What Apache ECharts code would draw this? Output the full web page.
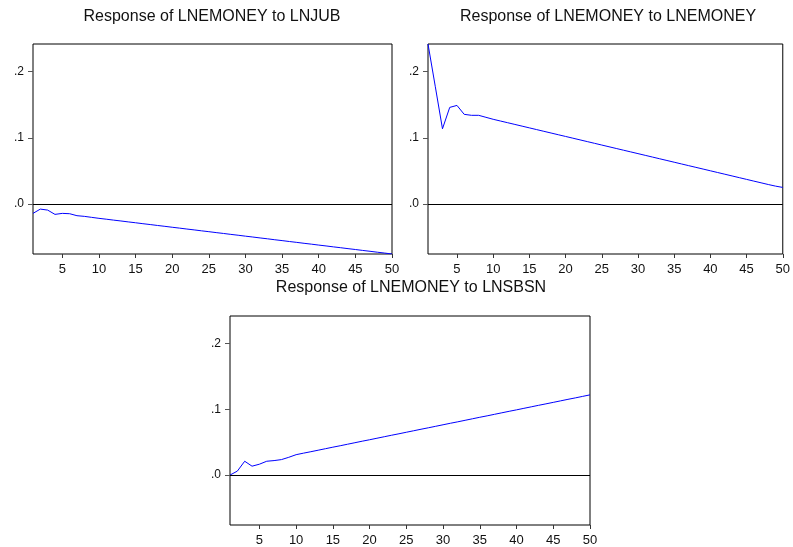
<!DOCTYPE html>
<html>
<head>
<meta charset="utf-8">
<script src="https://cdn.jsdelivr.net/npm/echarts@6/dist/echarts.min.js"></script>
<style>
  html, body { margin: 0; padding: 0; background: #fff; }
  #chart { width: 793px; height: 547px; }
</style>
</head>
<body>
<div id="chart"></div>
<script>
// periods 1..50
const periods = [];
for (let i = 1; i <= 50; i++) periods.push(i);

const xTicks = [5, 10, 15, 20, 25, 30, 35, 40, 45, 50];
const yTicks = [0, 0.1, 0.2];

const titles = [
  'Response of LNEMONEY to LNJUB',
  'Response of LNEMONEY to LNEMONEY',
  'Response of LNEMONEY to LNSBSN'
];

// response of LNEMONEY to LNJUB
const toJub = [
  -0.0145, -0.0080, -0.0095, -0.0160, -0.0145, -0.0150, -0.0180, -0.0190, -0.0205, -0.0220,
  -0.0233, -0.0247, -0.0260, -0.0274, -0.0287, -0.0301, -0.0314, -0.0328, -0.0341, -0.0355,
  -0.0368, -0.0382, -0.0395, -0.0409, -0.0422, -0.0436, -0.0449, -0.0463, -0.0476, -0.0490,
  -0.0503, -0.0517, -0.0530, -0.0544, -0.0557, -0.0571, -0.0584, -0.0598, -0.0611, -0.0625,
  -0.0638, -0.0652, -0.0665, -0.0679, -0.0692, -0.0706, -0.0719, -0.0733, -0.0746, -0.0760
];

// response of LNEMONEY to LNEMONEY
const toEmoney = [
  0.2420, 0.1780, 0.1136, 0.1460, 0.1490, 0.1355, 0.1340, 0.1340, 0.1310, 0.1280,
  0.1254, 0.1228, 0.1202, 0.1176, 0.1150, 0.1124, 0.1098, 0.1072, 0.1046, 0.1020,
  0.0994, 0.0968, 0.0942, 0.0916, 0.0890, 0.0864, 0.0838, 0.0812, 0.0786, 0.0760,
  0.0734, 0.0708, 0.0682, 0.0656, 0.0630, 0.0604, 0.0578, 0.0552, 0.0526, 0.0500,
  0.0474, 0.0448, 0.0422, 0.0396, 0.0370, 0.0344, 0.0318, 0.0292, 0.0268, 0.0248
];

// response of LNEMONEY to LNSBSN
const toSbsn = [
  0.0000, 0.0060, 0.0210, 0.0135, 0.0165, 0.0210, 0.0220, 0.0235, 0.0270, 0.0310,
  0.0333, 0.0355, 0.0378, 0.0401, 0.0424, 0.0446, 0.0469, 0.0492, 0.0515, 0.0537,
  0.0560, 0.0583, 0.0606, 0.0628, 0.0651, 0.0674, 0.0697, 0.0719, 0.0742, 0.0765,
  0.0788, 0.0810, 0.0833, 0.0856, 0.0879, 0.0901, 0.0924, 0.0947, 0.0970, 0.0992,
  0.1015, 0.1038, 0.1061, 0.1083, 0.1106, 0.1129, 0.1152, 0.1174, 0.1197, 0.1220
];

const yMin = -0.076, yMax = 0.242;

const chart = echarts.init(document.getElementById('chart'), null, { renderer: 'canvas' });

const grids = [
  { left: 33, top: 44, width: 359, height: 210 },
  { left: 428, top: 44, width: 358, height: 210 },
  { left: 230, top: 316, width: 360, height: 210 }
];
const titlePos = [
  { x: 212, y: 9 },
  { x: 608, y: 9 },
  { x: 411, y: 280 }
];
const allData = [toJub, toEmoney, toSbsn];

const font = 'Liberation Sans, Arial, sans-serif';

const option = {
  animation: false,
  backgroundColor: '#ffffff',
  title: titles.map((t, i) => ({
    text: t,
    left: titlePos[i].x,
    top: titlePos[i].y,
    textAlign: 'center',
    padding: 0,
    textStyle: { fontFamily: font, fontSize: 16, fontWeight: 'normal', color: '#111' }
  })),
  grid: grids.map(g => Object.assign({ show: true, borderColor: '#000', borderWidth: 1, backgroundColor: 'transparent' }, g)),
  xAxis: grids.map((g, i) => ({
    type: 'value',
    gridIndex: i,
    min: 1,
    max: 50,
    position: 'bottom',
    axisLine: { show: false, onZero: false },
    splitLine: { show: false },
    axisTick: { show: true, customValues: xTicks, length: 4, lineStyle: { color: '#333' } },
    axisLabel: {
      customValues: xTicks,
      fontFamily: font,
      fontSize: 13,
      color: '#111',
      margin: 9
    }
  })),
  yAxis: grids.map((g, i) => ({
    type: 'value',
    gridIndex: i,
    min: yMin,
    max: yMax,
    axisLine: { show: false, onZero: false },
    splitLine: { show: false },
    axisTick: { show: true, customValues: yTicks, length: 5, lineStyle: { color: '#555' } },
    axisLabel: {
      customValues: yTicks,
      fontFamily: font,
      fontSize: 12,
      color: '#111',
      margin: 9,
      padding: [0, 0, 6, 0],
      formatter: v => '.' + Math.round(v * 10)
    }
  })),
  series: allData.map((d, i) => ({
    type: 'line',
    xAxisIndex: i,
    yAxisIndex: i,
    data: periods.map((p, k) => [p, d[k]]),
    showSymbol: false,
    lineStyle: { color: '#0000ff', width: 1 },
    markLine: {
      silent: true,
      symbol: 'none',
      label: { show: false },
      lineStyle: { color: '#000', width: 1, type: 'solid' },
      data: [{ yAxis: 0 }]
    }
  }))
};

chart.setOption(option);
</script>
</body>
</html>
